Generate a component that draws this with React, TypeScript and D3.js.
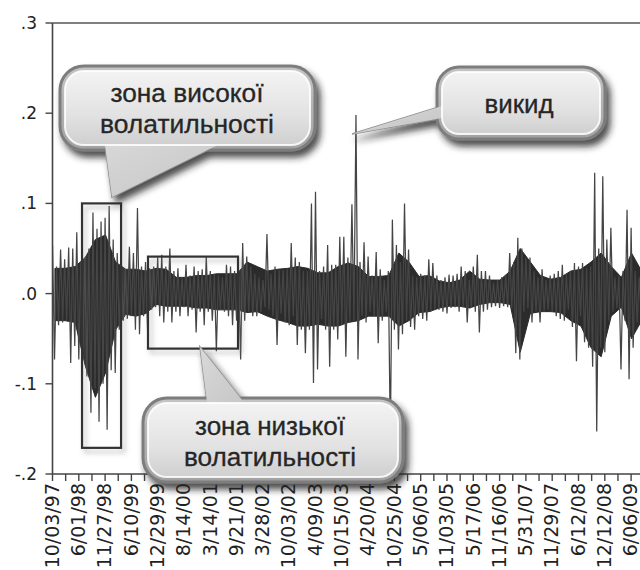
import React from "react";
import * as d3 from "d3";

// ---------- data ----------
const dateLabels = [
  "10/03/97", "6/01/98", "11/27/98", "6/10/99", "12/29/99", "8/14/00", "3/14/01", "9/21/01",
  "3/28/02", "10/03/02", "4/09/03", "10/15/03", "4/20/04", "10/25/04", "5/06/05", "11/03/05",
  "5/17/06", "11/16/06", "5/31/07", "11/29/07", "6/12/08", "12/12/08", "6/06/09",
];
const yTickValues = [-0.2, -0.1, 0, 0.1, 0.2, 0.3];
const yTickLabels = ["-.2", "-.1", ".0", ".1", ".2", ".3"];

const returns = [
  0.054, -0.073, 0.030, -0.035, 0.049, -0.032, 0.038, -0.030, 0.051, -0.077,
  0.050, -0.058, 0.068, -0.073, 0.035, -0.060, 0.040, -0.092, 0.050, -0.132,
  0.090, -0.105, 0.072, -0.142, 0.080, -0.100, 0.084, -0.151, 0.097, -0.085,
  0.060, -0.088, 0.045, -0.040, 0.030, -0.030, 0.027, -0.028, 0.052, -0.025,
  0.045, -0.040, 0.095, -0.045, 0.030, -0.025, 0.035, -0.040, 0.028, -0.018,
  0.030, -0.015, 0.040, -0.025, 0.043, -0.032, 0.030, -0.020, 0.050, -0.032,
  0.025, -0.020, 0.028, -0.025, 0.018, -0.015, 0.032, -0.025, 0.020, -0.018,
  0.030, -0.043, 0.025, -0.020, 0.027, -0.035, 0.041, -0.020, 0.025, -0.030,
  0.022, -0.064, 0.020, -0.018, 0.018, -0.020, 0.032, -0.025, 0.030, -0.035,
  0.025, -0.030, 0.018, -0.073, 0.056, -0.030, 0.041, -0.020, 0.030, -0.025,
  0.022, -0.025, 0.018, -0.020, 0.015, -0.015, 0.066, -0.018, 0.022, -0.025,
  0.030, -0.057, 0.026, -0.022, 0.026, -0.032, 0.027, -0.035, 0.056, -0.025,
  0.040, -0.057, 0.035, -0.040, 0.025, -0.066, 0.025, -0.040, 0.100, -0.099,
  0.113, -0.084, 0.025, -0.028, 0.030, -0.040, 0.054, -0.081, 0.032, -0.040,
  0.032, -0.051, 0.063, -0.035, 0.063, -0.070, 0.040, -0.032, 0.099, -0.030,
  0.198, -0.073, 0.035, -0.025, 0.057, -0.032, 0.041, -0.020, 0.020, -0.025,
  0.046, -0.055, 0.027, -0.030, 0.015, -0.020, 0.025, -0.162, 0.082, -0.040,
  0.054, -0.062, 0.035, -0.045, 0.100, -0.030, 0.049, -0.037, 0.020, -0.040,
  0.018, -0.025, 0.022, -0.028, 0.020, -0.030, 0.038, -0.020, 0.034, -0.018,
  0.020, -0.018, 0.015, -0.020, 0.018, -0.022, 0.021, -0.016, 0.020, -0.015,
  0.022, -0.020, 0.030, -0.015, 0.025, -0.032, 0.015, -0.016, 0.030, -0.020,
  0.043, -0.043, 0.025, -0.020, 0.025, -0.018, 0.020, -0.015, 0.012, -0.014,
  0.015, -0.016, 0.018, -0.014, 0.020, -0.015, 0.045, -0.016, 0.035, -0.066,
  0.062, -0.073, 0.050, -0.020, 0.040, -0.016, 0.040, -0.032, 0.025, -0.020,
  0.018, -0.032, 0.027, -0.020, 0.015, -0.018, 0.020, -0.020, 0.022, -0.025,
  0.025, -0.028, 0.032, -0.030, 0.022, -0.018, 0.025, -0.037, 0.034, -0.075,
  0.030, -0.025, 0.034, -0.054, 0.028, -0.060, 0.030, -0.081, 0.134, -0.153,
  0.050, -0.060, 0.130, -0.065, 0.060, -0.030, 0.073, -0.020, 0.018, -0.016,
  0.020, -0.084, 0.025, -0.030, 0.093, -0.095, 0.073, -0.060, 0.025, -0.032,
  0.018, -0.025, 0.025, -0.032, 0.020, -0.025, 0.022, -0.020, 0.020, -0.025,
];
const OBS_STEP = 10;

// dense (overplotted) core of the daily returns, every CORE_STEP obs: upper / lower edge
const CORE_STEP = 50;
const coreUpper = [
  0.028, 0.028, 0.030, 0.040, 0.060, 0.065, 0.035, 0.027, 0.027, 0.025,
  0.028, 0.027, 0.018, 0.018, 0.020, 0.020, 0.022, 0.022, 0.022, 0.035,
  0.030, 0.025, 0.027, 0.028, 0.030, 0.028, 0.023, 0.023, 0.030, 0.034,
  0.030, 0.019, 0.019, 0.020, 0.045, 0.035, 0.019, 0.020, 0.014, 0.012,
  0.015, 0.025, 0.016, 0.015, 0.015, 0.025, 0.050, 0.035, 0.020, 0.016,
  0.018, 0.025, 0.027, 0.035, 0.045, 0.030, 0.018, 0.045, 0.025, 0.025,
];
const coreLower = [
  -0.030, -0.030, -0.032, -0.080, -0.115, -0.088, -0.040, -0.023, -0.025, -0.022,
  -0.012, -0.014, -0.014, -0.014, -0.016, -0.016, -0.018, -0.018, -0.018, -0.021,
  -0.020, -0.025, -0.029, -0.032, -0.036, -0.036, -0.034, -0.036, -0.036, -0.032,
  -0.030, -0.025, -0.025, -0.025, -0.036, -0.030, -0.021, -0.020, -0.016, -0.014,
  -0.014, -0.016, -0.012, -0.010, -0.010, -0.012, -0.065, -0.022, -0.020, -0.020,
  -0.021, -0.030, -0.036, -0.060, -0.070, -0.025, -0.015, -0.050, -0.030, -0.030,
];

const LABEL_EVERY = 130;
const TICK_EVERY = 65;

// highlighted zones: [startObs, endObs, top, bottom]
const highVolZone = [146, 339, 0.1, -0.171];
const lowVolZone = [472, 917, 0.041, -0.061];

// ---------- layout ----------
const W = 640;
const H = 570;
const X0 = 52.5;
const PX_PER_OBS = 26.3 / 130;
const Y_TOP = 23;
const Y_BOT = 474;
const FONT_AXIS = "'DejaVu Sans', sans-serif";
const FONT_NOTE = "'Liberation Sans', Arial, sans-serif";

type Pt = [number, number];
interface CalloutProps {
  x: number; y: number; w: number; h: number; r: number;
  tail: Pt[];
  lines: { text: string; y: number; len: number }[];
  cx: number;
  size: number;
  id: string;
}

function Callout({ x, y, w, h, r, tail, lines, cx, size, id }: CalloutProps) {
  const tailPath = "M" + tail.map((p) => p.join(",")).join("L") + "Z";
  return (
    <g>
      <g filter="url(#cshadow)">
        <path d={tailPath} fill={`url(#tailgrad-${id})`} stroke="#8f8f8f" strokeWidth={1.5} />
        <rect x={x} y={y} width={w} height={h} rx={r} ry={r} fill="url(#cgrad)" stroke="#7d7d7d" strokeWidth={3} />
      </g>
      <path d={tailPath} fill={`url(#tailgrad-${id})`} stroke="none" />
      <rect x={x + 5} y={y + 5} width={w - 10} height={h - 10} rx={r - 5} ry={r - 5} fill="url(#cgrad2)" stroke="#ffffff" strokeOpacity={0.85} strokeWidth={2} />
      {lines.map((l, i) => (
        <text key={i} x={cx} y={l.y} textAnchor="middle" fontFamily={FONT_NOTE} fontSize={size} fill="#262626" stroke="#262626" strokeWidth={0.3} textLength={l.len} lengthAdjust="spacingAndGlyphs">
          {l.text}
        </text>
      ))}
    </g>
  );
}

export default function App() {
  const lastObs = (returns.length - 1) * OBS_STEP;
  const x = d3.scaleLinear().domain([0, lastObs]).range([X0, X0 + lastObs * PX_PER_OBS]);
  const y = d3.scaleLinear().domain([-0.2, 0.3]).range([Y_BOT, Y_TOP]);

  const line = d3
    .line<number>()
    .x((_, i) => x(i * OBS_STEP))
    .y((d) => y(d));

  const core = d3
    .area<number>()
    .x((_, i) => x(i * CORE_STEP + 12))
    .y0((_, i) => y(coreLower[i]))
    .y1((d) => y(d));

  const minorTicks = d3.range(0, lastObs + 1, TICK_EVERY);
  const zone = (z: number[]) => ({
    x: x(z[0]),
    y: y(z[2]),
    w: x(z[1]) - x(z[0]),
    h: y(z[3]) - y(z[2]),
  });
  const hz = zone(highVolZone);
  const lz = zone(lowVolZone);

  return (
    <svg width={W} height={H} style={{ position: "absolute", left: 0, top: 0, background: "#fff" }}>
      <defs>
        <clipPath id="plot">
          <rect x={X0} y={Y_TOP} width={W} height={Y_BOT - Y_TOP} />
        </clipPath>
        <filter id="cshadow" x="-20%" y="-20%" width="150%" height="170%">
          <feDropShadow dx={4} dy={6} stdDeviation={3.5} floodColor="#222" floodOpacity={0.8} />
        </filter>
        <filter id="bshadow" x="-20%" y="-20%" width="150%" height="150%">
          <feDropShadow dx={3} dy={4} stdDeviation={2.5} floodColor="#777" floodOpacity={0.5} />
        </filter>
        <linearGradient id="cgrad" x1="0" y1="0" x2="0" y2="1">
          <stop offset="0" stopColor="#c4c4c4" />
          <stop offset="1" stopColor="#a2a2a2" />
        </linearGradient>
        <linearGradient id="cgrad2" x1="0" y1="0" x2="0" y2="1">
          <stop offset="0" stopColor="#f3f3f3" />
          <stop offset="0.6" stopColor="#e2e2e2" />
          <stop offset="1" stopColor="#cfcfcf" />
        </linearGradient>
        {["a", "b", "c"].map((id) => (
          <linearGradient key={id} id={`tailgrad-${id}`} x1="0" y1="0" x2="1" y2="1">
            <stop offset="0" stopColor="#d9d9d9" />
            <stop offset="1" stopColor="#c4c4c4" />
          </linearGradient>
        ))}
      </defs>

      {/* series */}
      <g clipPath="url(#plot)">
        <path d={core(coreUpper) || ""} fill="#2b2b2b" stroke="#2b2b2b" strokeWidth={1} />
        <path d={line(returns) || ""} fill="none" stroke="#454545" strokeWidth={1.25} strokeLinejoin="miter" strokeMiterlimit={1.5} />
      </g>

      {/* zone boxes */}
      <g filter="url(#bshadow)">
        <rect x={hz.x} y={hz.y} width={hz.w} height={hz.h} fill="none" stroke="#333" strokeWidth={2.2} />
        <rect x={lz.x} y={lz.y} width={lz.w} height={lz.h} fill="none" stroke="#333" strokeWidth={2.2} />
      </g>

      {/* frame and axes */}
      <line x1={X0} x2={W} y1={Y_TOP} y2={Y_TOP} stroke="#555" strokeWidth={1.6} />
      <line x1={X0} x2={X0} y1={Y_TOP} y2={Y_BOT} stroke="#444" strokeWidth={1.6} />
      <line x1={X0} x2={W} y1={Y_BOT} y2={Y_BOT} stroke="#444" strokeWidth={1.6} />
      {yTickValues.map((v, i) => (
        <g key={v}>
          <line x1={X0 - 7} x2={X0} y1={y(v)} y2={y(v)} stroke="#444" strokeWidth={1.4} />
          <text x={37} y={y(v) + 6} textAnchor="end" fontFamily={FONT_AXIS} fontSize={17} fill="#222">
            {yTickLabels[i]}
          </text>
        </g>
      ))}
      {minorTicks.map((t) => (
        <line key={t} x1={x(t)} x2={x(t)} y1={Y_BOT} y2={Y_BOT + 7} stroke="#444" strokeWidth={1.4} />
      ))}
      {dateLabels.map((d, i) => (
        <text
          key={d}
          transform={`translate(${x(i * LABEL_EVERY)},${Y_BOT + 9}) rotate(-90)`}
          dy="0.33em"
          textAnchor="end"
          fontFamily={FONT_AXIS}
          fontSize={19}
          fill="#222"
        >
          {d}
        </text>
      ))}

      {/* callouts */}
      <Callout
        id="a"
        x={60} y={66} w={255} h={84} r={24}
        tail={[[104, 138], [112, 197], [232, 138]]}
        cx={187}
        size={26}
        lines={[
          { text: "зона високої", y: 102, len: 153 },
          { text: "волатильності", y: 133, len: 174 },
        ]}
      />
      <Callout
        id="b"
        x={437} y={67} w={168} h={72} r={22}
        tail={[[352, 134], [442, 106], [442, 118]]}
        cx={519}
        size={25}
        lines={[{ text: "викид", y: 113, len: 69 }]}
      />
      <Callout
        id="c"
        x={143} y={398} w={260} h={84} r={24}
        tail={[[200, 347], [208, 410], [250, 410]]}
        cx={270}
        size={26}
        lines={[
          { text: "зона низької", y: 435, len: 150 },
          { text: "волатильності", y: 466, len: 172 },
        ]}
      />
    </svg>
  );
}
